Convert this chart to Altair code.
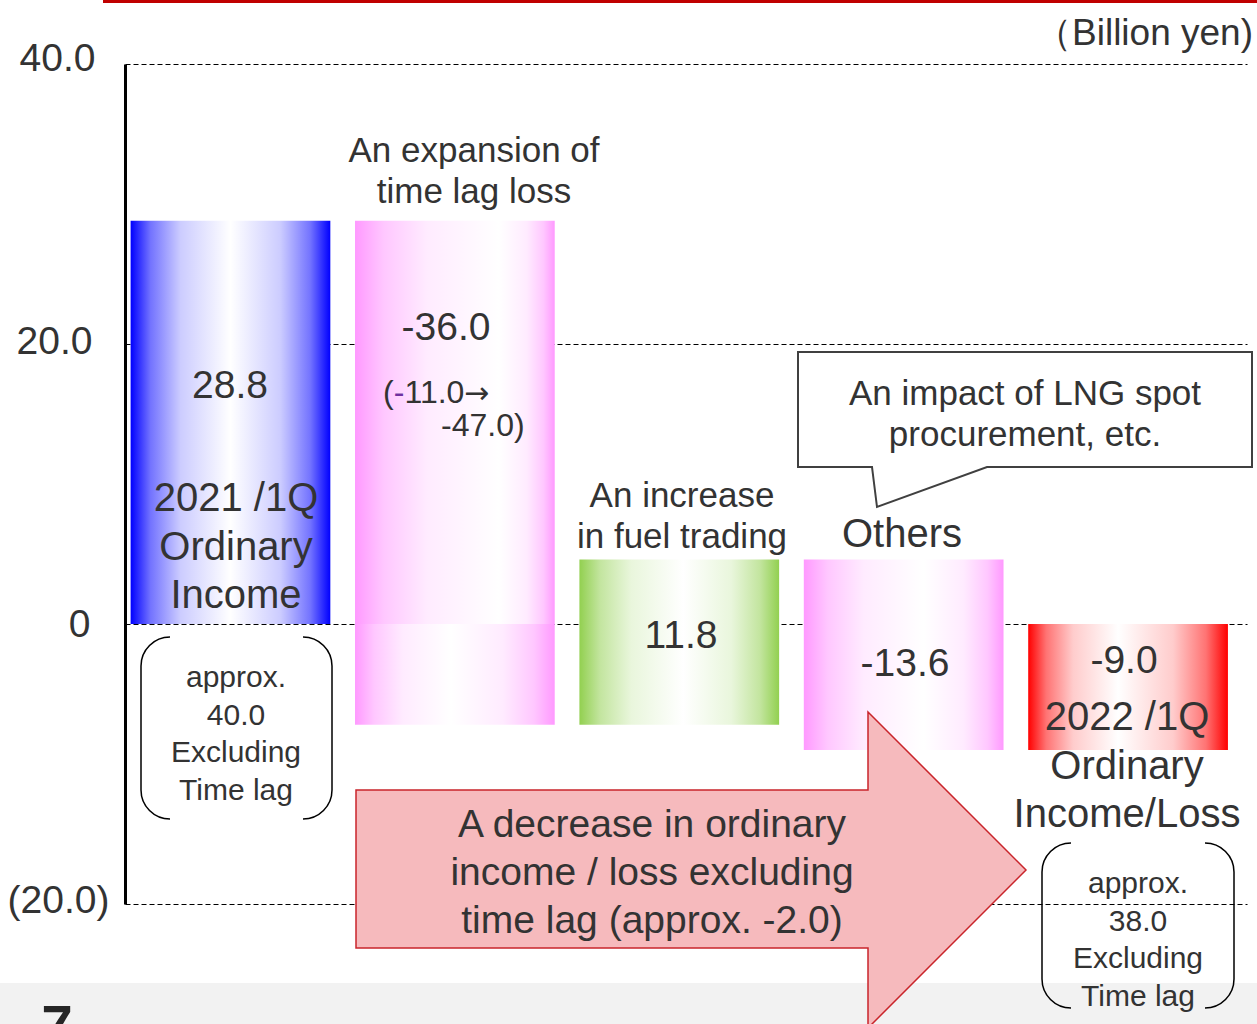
import altair as alt
import pandas as pd

# ---------------- data ----------------
step_names = [
    "2021 /1Q Ordinary Income",
    "An expansion of time lag loss",
    "An increase in fuel trading",
    "Others",
    "2022 /1Q Ordinary Income/Loss",
]
step_values = [28.8, -36.0, 11.8, -13.6, -9.0]
step_kind = ["total", "delta", "delta", "delta", "total"]

tick_values = [-20, 0, 20, 40]

# ---------------- layout / style ----------------
FONT = "Liberation Sans"
INK = "#333333"
W, H = 1122, 840                     # plot area
X0, Y0 = 125, 64                     # plot origin on the page
XDOM = [-0.47, 4.53]
YDOM = [-20, 40]
SLOT = W / (XDOM[1] - XDOM[0])       # px per category slot
PXV = H / (YDOM[1] - YDOM[0])        # px per billion yen
HALF = 0.445                         # half bar width in slot units


def ux(px):
    return (px - X0) / SLOT + XDOM[0]


def uy(py):
    return YDOM[1] - (py - Y0) / PXV


xs = alt.Scale(domain=XDOM, nice=False, zero=False)
ys = alt.Scale(domain=YDOM, nice=False, zero=False)

y_axis = alt.Axis(
    values=tick_values, title=None, grid=True, gridColor="black", gridDash=[5, 3],
    gridWidth=1.2, domain=True, domainColor="black", domainWidth=3, ticks=False,
    labelFont=FONT, labelFontSize=39, labelColor=INK,
    labelPadding={"condition": [{"test": "datum.value < 0", "value": 16},
                                {"test": "datum.value == 0", "value": 35},
                                {"test": "datum.value == 20", "value": 33}],
                  "value": 30},
    labelOffset={"condition": [{"test": "datum.value < 0", "value": -4},
                               {"test": "datum.value == 0", "value": 0},
                               {"test": "datum.value == 20", "value": -3}],
                 "value": -6},
    labelExpr="datum.value < 0 ? '(' + format(-datum.value, '.1f') + ')' : "
              "(datum.value == 0 ? '0' : format(datum.value, '.1f'))",
)


def X(field):
    return alt.X(field, scale=xs, axis=None)


def Y(field):
    # every layer carries the same axis definition so they merge into one
    return alt.Y(field, scale=ys, axis=y_axis)


def mix(hex_color, t):
    r, g, b = (int(hex_color[i:i + 2], 16) for i in (1, 3, 5))
    r, g, b = (round(c + (255 - c) * t) for c in (r, g, b))
    return f"#{r:02x}{g:02x}{b:02x}"


def grad(edge, white_at):
    left = [(0.0, 0.0), (0.2, 0.45), (0.5, 0.8), (1.0, 1.0)]
    stops = [alt.GradientStop(offset=white_at * f, color=mix(edge, t)) for f, t in left]
    for f, t in reversed(left[:-1]):
        stops.append(alt.GradientStop(offset=1 - (1 - white_at) * f, color=mix(edge, t)))
    return alt.LinearGradient(gradient="linear", x1=0, x2=1, y1=0, y2=0, stops=stops)


# ---------------- waterfall segments ----------------
rows = []
level = 0.0
for i, (v, kind) in enumerate(zip(step_values, step_kind)):
    start, end = (0.0, v) if kind == "total" else (level, level + v)
    level = end
    lo, hi = min(start, end), max(start, end)
    parts = [("up", 0.0, hi), ("down", lo, 0.0)] if lo < 0 < hi else \
            [("up" if lo >= 0 else "down", lo, hi)]
    for part, a, b in parts:
        rows.append(dict(step=i, part=part, left=i - HALF, right=i + HALF, y0=a, y1=b,
                         key=f"{i}{part}"))
segs = pd.DataFrame(rows)

PINK, BLUE, GREEN, RED = "#ff99ff", "#0000ff", "#92d050", "#ff0000"
seg_fill = {
    "0up": grad(BLUE, 0.5),
    "1up": grad(PINK, 0.72),
    "1down": grad(PINK, 0.48),
    "2up": grad(GREEN, 0.52),
    "2down": grad(GREEN, 0.52),
    "3up": grad(PINK, 0.6),
    "3down": grad(PINK, 0.6),
    "4down": grad(RED, 0.45),
}

bar_layers = [
    alt.Chart(segs).transform_filter(alt.datum.key == key)
    .mark_bar(color=fill, strokeWidth=0)
    .encode(x=X("left:Q"), x2="right:Q", y=Y("y0:Q"), y2="y1:Q")
    for key, fill in seg_fill.items()
]

# ---------------- page decoration ----------------
band = alt.Chart(pd.DataFrame([dict(a=ux(0), b=ux(1257), c=uy(983), d=uy(1030))])).mark_rect(
    color="#f2f2f2").encode(x=X("a:Q"), x2="b:Q", y=Y("c:Q"), y2="d:Q")

top_rule = alt.Chart(pd.DataFrame([dict(a=ux(103), b=ux(1257), c=uy(1.5))])).mark_rule(
    color="#c00000", strokeWidth=3).encode(x=X("a:Q"), x2="b:Q", y=Y("c:Q"))


# ---------------- annotation shapes ----------------
def bracket_path(hw, hh, r):
    return (f"M {-hw + r} {-hh} A {r} {r} 0 0 0 {-hw} {-hh + r} L {-hw} {hh - r} "
            f"A {r} {r} 0 0 0 {-hw + r} {hh} "
            f"M {hw - r} {-hh} A {r} {r} 0 0 1 {hw} {-hh + r} L {hw} {hh - r} "
            f"A {r} {r} 0 0 1 {hw - r} {hh}")


def shape(px, py, path, **style):
    return alt.Chart(pd.DataFrame([dict(x=ux(px), y=uy(py))])).mark_point(
        shape=path, size=4, opacity=1, **style).encode(x=X("x:Q"), y=Y("y:Q"))


bracket1 = shape(236.5, 728, bracket_path(95.5, 91, 29), filled=False, color="black",
                 strokeWidth=1.5)
bracket2 = shape(1138, 925.5, bracket_path(96, 82.5, 29), filled=False, color="black",
                 strokeWidth=1.5)
callout = shape(1025, 410,
                "M -227 -58 L 227 -58 L 227 57 L -38 57 L -148 97 L -153 57 L -227 57 Z",
                filled=True, fill="white", stroke="#404040", strokeWidth=2, fillOpacity=1)
arrow = shape(691, 870,
              "M -335 -80 L 177 -80 L 177 -158 L 335 0 L 177 158 L 177 78 L -335 78 Z",
              filled=True, fill="#f6babd", stroke="#c9252b", strokeWidth=1.5, fillOpacity=1)


# ---------------- text ----------------
def texts(items, size, line_height=None, align="center", color=INK, weight="normal",
          font=FONT):
    df = pd.DataFrame([dict(t=t, x=ux(px), y=uy(py)) for t, px, py in items])
    props = dict(font=font, fontSize=size, align=align, baseline="alphabetic",
                 color=color, fontWeight=weight, lineBreak="\n")
    if line_height:
        props["lineHeight"] = line_height
    return alt.Chart(df).mark_text(**props).encode(x=X("x:Q"), y=Y("y:Q"), text="t:N")


value_label_at = [(230, 398), (446, 340), (681, 648), (905, 676), (1124, 673)]
value_labels = texts(
    [(f"{v:.1f}", px, py) for v, (px, py) in zip(step_values, value_label_at)], 39)

total_labels = texts([
    ("2021 /1Q\nOrdinary\nIncome", 236, 511),
    ("2022 /1Q\nOrdinary\nIncome/Loss", 1127, 730),
], 40, line_height=48.5)

step_headers = texts([
    ("An expansion of\ntime lag loss", 474, 162),
    ("An increase\nin fuel trading", 682, 507),
], 35, line_height=41)

others_label = texts([("Others", 902, 547)], 40)

bracket_texts = texts([
    ("approx.\n40.0\nExcluding\nTime lag", 236, 687),
    ("approx.\n38.0\nExcluding\nTime lag", 1138, 893),
], 30, line_height=37.5)

callout_text = texts([("An impact of LNG spot\nprocurement, etc.", 1025, 405)], 35,
                     line_height=41)

range_text = texts([("(", 383, 403), ("11.0", 404.5, 403), ("-47.0)", 441, 436)],
                   32, align="left")
range_minus = texts([("-", 393.7, 403)], 32, align="left", color="#7030a0")
range_arrow = texts([("\u2192", 464, 403)], 30, align="left", font="DejaVu Sans")

arrow_text = texts([("A decrease in ordinary\nincome / loss excluding\n"
                     "time lag (approx. -2.0)", 652, 837)], 39, line_height=48)

unit_text = texts([("（Billion yen)", 1253, 45)], 37, align="right")
page_no = texts([("7", 57, 1044)], 56, weight="bold", color="#262626")

chart = alt.layer(
    band, top_rule, *bar_layers, bracket1, bracket2, callout,
    value_labels, total_labels, step_headers, others_label, bracket_texts,
    callout_text, range_text, range_minus, range_arrow, unit_text, page_no,
    arrow, arrow_text,
).properties(
    width=W, height=H, autosize="none",
    padding={"left": X0, "top": Y0, "right": 1257 - X0 - W, "bottom": 1024 - Y0 - H},
    background="white",
).configure_view(stroke=None)

chart.save("out.html", embed_options={"renderer": "svg", "actions": False})
